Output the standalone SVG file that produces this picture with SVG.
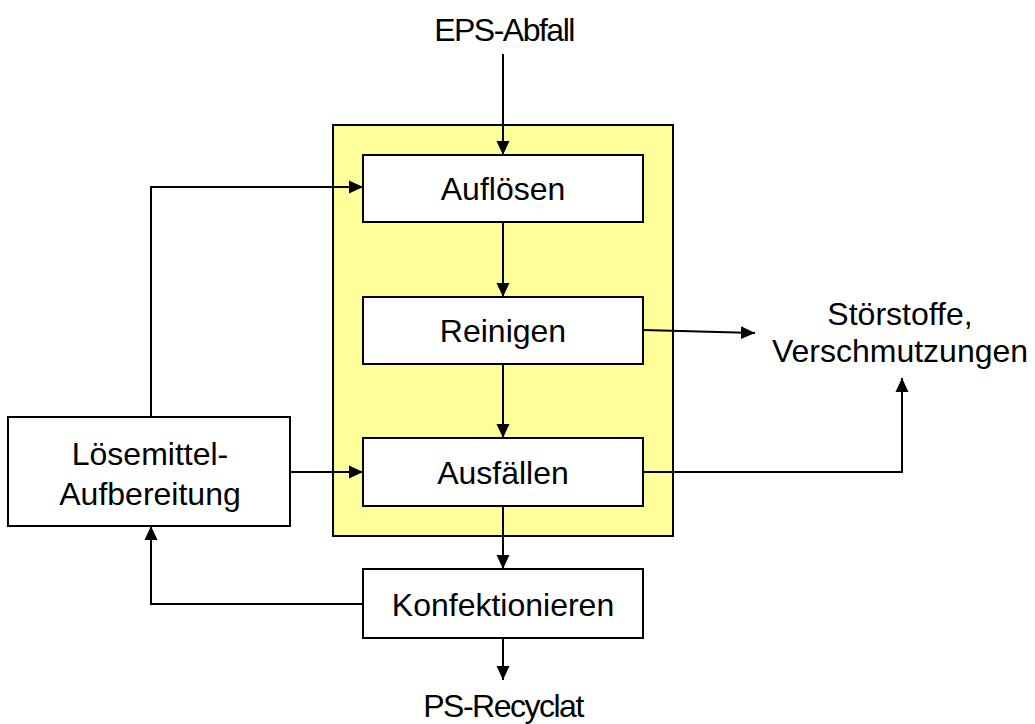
<svg xmlns="http://www.w3.org/2000/svg" width="1035" height="724" viewBox="0 0 1035 724">
<style>
.box{fill:#fff;stroke:#000;stroke-width:2}
.t{font-family:"Liberation Sans",Arial,sans-serif;font-size:32px;fill:#000;text-anchor:middle}
.c{fill:none;stroke:#000;stroke-width:2}
</style>
<defs>
<marker id="ah" viewBox="0 0 14 14" refX="14" refY="7" markerWidth="14" markerHeight="14" markerUnits="userSpaceOnUse" orient="auto">
<path d="M0,0.5 L14,7 L0,13.5 Z" fill="#000"/>
</marker>
</defs>
<rect width="1035" height="724" fill="#fff"/>
<g id="process-frame"><rect x="333" y="125" width="340" height="411" fill="#FFFF99" stroke="#000" stroke-width="2"/></g>
<g id="eps-abfall"><text class="t" x="504" y="41" letter-spacing="-1.5">EPS-Abfall</text></g>
<g id="aufloesen"><rect class="box" x="363" y="155" width="280" height="67"/><text class="t" x="503" y="200">Auflösen</text></g>
<g id="reinigen"><rect class="box" x="363" y="297" width="280" height="67"/><text class="t" x="503" y="342">Reinigen</text></g>
<g id="ausfaellen"><rect class="box" x="363" y="438" width="280" height="68"/><text class="t" x="503" y="484">Ausfällen</text></g>
<g id="konfektionieren"><rect class="box" x="363" y="569" width="280" height="69"/><text class="t" x="503" y="616">Konfektionieren</text></g>
<g id="loesemittel"><rect class="box" x="8" y="417" width="282" height="109"/><text class="t" x="150" y="465">Lösemittel-</text><text class="t" x="150" y="505">Aufbereitung</text></g>
<g id="stoerstoffe"><text class="t" x="900" y="325">Störstoffe,</text><text class="t" x="900" y="362">Verschmutzungen</text></g>
<g id="ps-recyclat"><text class="t" x="503" y="717" letter-spacing="-1.5">PS-Recyclat</text></g>
<g id="connectors">
<path class="c" d="M503,54 V155" marker-end="url(#ah)"/>
<path class="c" d="M151,417 V187 H363" marker-end="url(#ah)"/>
<path class="c" d="M290,472 H363" marker-end="url(#ah)"/>
<path class="c" d="M503,222 V297" marker-end="url(#ah)"/>
<path class="c" d="M503,364 V438" marker-end="url(#ah)"/>
<path class="c" d="M503,506 V569" marker-end="url(#ah)"/>
<path class="c" d="M503,638 V680" marker-end="url(#ah)"/>
<path class="c" d="M363,604 H151 V526" marker-end="url(#ah)"/>
<path class="c" d="M643,330 L755,333" marker-end="url(#ah)"/>
<path class="c" d="M643,472 H902 V378" marker-end="url(#ah)"/>
</g>
</svg>
